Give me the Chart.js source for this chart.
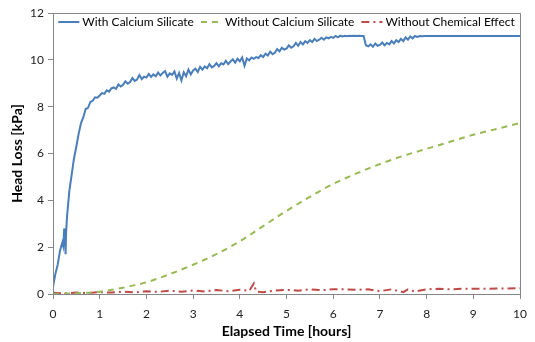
<!DOCTYPE html>
<html>
<head>
<meta charset="utf-8">
<script src="https://cdn.jsdelivr.net/npm/chart.js@4/dist/chart.umd.min.js"></script>
<style>
  html, body { margin: 0; padding: 0; background: #fff; }
  #wrap { width: 535px; height: 342px; }
</style>
</head>
<body>
<div id="wrap"><canvas id="chart"></canvas></div>
<script>
// hours / kPa
const timeWith = [0, 0.05, 0.1, 0.15, 0.2, 0.22, 0.24, 0.26, 0.27, 0.28, 0.3, 0.35, 0.4, 0.45, 0.5, 0.55, 0.6, 0.65, 0.7, 0.75, 0.8, 0.85, 0.9, 0.95,
    1.0, 1.05, 1.1, 1.15, 1.2, 1.25, 1.3, 1.35, 1.4, 1.45, 1.5, 1.55, 1.6, 1.65, 1.7, 1.75, 1.8, 1.85, 1.9, 1.95,
    2.0, 2.05, 2.1, 2.15, 2.2, 2.25, 2.3, 2.35, 2.4, 2.45, 2.5, 2.55, 2.6, 2.65, 2.7, 2.75, 2.8, 2.85, 2.9, 2.95,
    3.0, 3.05, 3.1, 3.15, 3.2, 3.25, 3.3, 3.35, 3.4, 3.45, 3.5, 3.55, 3.6, 3.65, 3.7, 3.75, 3.8, 3.85, 3.9, 3.95,
    4.0, 4.05, 4.1, 4.15, 4.2, 4.25, 4.3, 4.35, 4.4, 4.45, 4.5, 4.55, 4.6, 4.65, 4.7, 4.75, 4.8, 4.85, 4.9, 4.95,
    5.0, 5.05, 5.1, 5.15, 5.2, 5.25, 5.3, 5.35, 5.4, 5.45, 5.5, 5.55, 5.6, 5.65, 5.7, 5.75, 5.8, 5.85, 5.9, 5.95,
    6.0, 6.05, 6.1, 6.15, 6.2, 6.25, 6.3, 6.35, 6.4, 6.45, 6.5, 6.55, 6.6, 6.65, 6.7, 6.75, 6.8, 6.85, 6.9, 6.95,
    7.0, 7.05, 7.1, 7.15, 7.2, 7.25, 7.3, 7.35, 7.4, 7.45, 7.5, 7.55, 7.6, 7.65, 7.7, 7.75, 7.8, 7.85, 7.9, 7.95,
    8.0, 10.0];
const headWith = [0.3, 0.85, 1.25, 1.85, 2.2, 2.05, 2.8, 2.3, 1.7, 2.6, 3.3, 4.4, 5.1, 5.8, 6.3, 6.85, 7.3, 7.55, 7.9, 7.95, 8.2, 8.25, 8.4, 8.38,
    8.48, 8.58, 8.55, 8.7, 8.64, 8.78, 8.82, 8.76, 8.95, 8.86, 8.93, 9.08, 8.98, 9.05, 9.22, 9.1, 9.16, 9.35, 9.18, 9.28,
    9.24, 9.4, 9.27, 9.38, 9.3, 9.46, 9.33, 9.44, 9.52, 9.28, 9.42, 9.36, 9.5, 9.2, 9.44, 9.12, 9.47, 9.3, 9.58, 9.38,
    9.55, 9.62, 9.48, 9.7, 9.58, 9.72, 9.64, 9.82, 9.68, 9.74, 9.86, 9.72, 9.85, 9.8, 9.96, 9.82, 9.93, 10.02, 9.88, 10.05,
    9.94, 10.1, 9.75, 10.06, 9.98, 10.1, 10.04, 10.12, 10.08, 10.2, 10.12, 10.26, 10.18, 10.35, 10.24, 10.3, 10.46, 10.36, 10.52, 10.44,
    10.48, 10.62, 10.52, 10.58, 10.72, 10.6, 10.76, 10.66, 10.8, 10.72, 10.84, 10.76, 10.9, 10.8, 10.86, 10.94, 10.86, 10.96, 10.92, 10.98,
    10.94, 11.02, 10.96, 11.03, 11.0, 11.03, 11.01, 11.03, 11.02, 11.03, 11.02, 11.03, 11.02, 11.02, 10.62, 10.58, 10.66, 10.56, 10.7, 10.6,
    10.64, 10.74, 10.62, 10.72, 10.66, 10.8, 10.7, 10.84, 10.76, 10.9, 10.8, 10.96, 10.86, 11.0, 10.92, 11.02, 10.98, 11.02, 11.01, 11.02,
    11.02, 11.02];

const timeWithout = [0, 0.5, 1, 1.5, 2, 2.5, 3, 3.5, 4, 4.5, 5, 5.5, 6, 6.5, 7, 7.5, 8, 8.5, 9, 9.5, 10];
const headWithout = [0.0, 0.03, 0.1, 0.27, 0.5, 0.85, 1.25, 1.7, 2.25, 2.9, 3.55, 4.15, 4.7, 5.15, 5.55, 5.9, 6.2, 6.5, 6.8, 7.05, 7.3];

const timeNoChem = [0, 0.25, 0.5, 0.75, 1, 1.25, 1.5, 1.75, 2, 2.25, 2.5, 2.75, 3, 3.25, 3.5, 3.75, 4, 4.2, 4.3, 4.35, 4.5, 4.75,
    5, 5.25, 5.5, 5.75, 6, 6.25, 6.5, 6.75, 7, 7.25, 7.5, 7.6, 7.75, 8, 8.25, 8.5, 8.75, 9, 9.5, 10];
const headNoChem = [0.05, 0.03, 0.06, 0.04, 0.08, 0.06, 0.1, 0.07, 0.12, 0.09, 0.14, 0.1, 0.15, 0.11, 0.17, 0.12, 0.18, 0.13, 0.45, 0.1, 0.08, 0.15,
    0.18, 0.14, 0.2, 0.16, 0.2, 0.2, 0.18, 0.2, 0.12, 0.2, 0.08, 0.2, 0.1, 0.2, 0.22, 0.2, 0.22, 0.22, 0.23, 0.25];

const seriesNames = ['With Calcium Silicate', 'Without Calcium Silicate', 'Without Chemical Effect'];
const xTicks = [0, 1, 2, 3, 4, 5, 6, 7, 8, 9, 10];
const yTicks = [0, 2, 4, 6, 8, 10, 12];

const AXIS = '#868686';
const FONT = 'Lato, "Liberation Sans", sans-serif';

function toPoints(xs, ys) {
    return xs.map((x, i) => ({ x: x, y: ys[i] }));
}

// grey frame round the plot area
const frame = {
    id: 'frame',
    afterDraw(chart) {
        const a = chart.chartArea;
        const ctx = chart.ctx;
        ctx.save();
        ctx.strokeStyle = AXIS;
        ctx.lineWidth = 1;
        ctx.strokeRect(Math.round(a.left) + 0.5, Math.round(a.top) + 0.5, Math.round(a.right - a.left), Math.round(a.bottom - a.top));
        ctx.restore();
    }
};

// one-row legend sitting inside the top of the plot, like the Excel original
const innerLegend = {
    id: 'innerLegend',
    afterDraw(chart) {
        const a = chart.chartArea;
        const ctx = chart.ctx;
        const sample = 21, gapText = 3, gapItem = 7;
        ctx.save();
        ctx.font = '12px ' + FONT;
        const items = chart.data.datasets.map(ds => ({ ds, w: ctx.measureText(ds.label).width }));
        let total = items.reduce((s, it) => s + sample + gapText + it.w, 0) + gapItem * (items.length - 1);
        let x = (a.left + a.right) / 2 - total / 2;
        const y = a.top + 9;
        items.forEach(it => {
            ctx.strokeStyle = it.ds.borderColor;
            ctx.lineWidth = 2;
            ctx.setLineDash(it.ds.borderDash || []);
            ctx.beginPath();
            ctx.moveTo(x, y);
            ctx.lineTo(x + sample, y);
            ctx.stroke();
            ctx.setLineDash([]);
            ctx.fillStyle = '#000';
            ctx.textBaseline = 'middle';
            ctx.fillText(it.ds.label, x + sample + gapText, y);
            x += sample + gapText + it.w + gapItem;
        });
        ctx.restore();
    }
};

new Chart(document.getElementById('chart'), {
    type: 'line',
    data: {
        datasets: [{
            label: seriesNames[0],
            data: toPoints(timeWith, headWith),
            borderColor: '#4a7ebb',
            borderWidth: 2,
            pointRadius: 0,
            tension: 0
        }, {
            label: seriesNames[1],
            data: toPoints(timeWithout, headWithout),
            borderColor: '#98b954',
            borderWidth: 2,
            borderDash: [6, 5],
            pointRadius: 0,
            cubicInterpolationMode: 'monotone'
        }, {
            label: seriesNames[2],
            data: toPoints(timeNoChem, headNoChem),
            borderColor: '#be4b48',
            borderWidth: 2,
            borderDash: [8, 4, 2, 4],
            pointRadius: 0,
            tension: 0
        }]
    },
    options: {
        responsive: true,
        maintainAspectRatio: false,
        animation: false,
        layout: { padding: { top: 13, right: 12, left: 0, bottom: 0 } },
        scales: {
            x: {
                type: 'linear',
                min: 0,
                max: 10,
                afterBuildTicks: s => { s.ticks = xTicks.map(v => ({ value: v })); },
                afterFit: s => { s.height = 48; },
                grid: { drawOnChartArea: false, drawTicks: true, tickLength: 5, color: AXIS },
                border: { color: AXIS },
                ticks: { color: '#222', font: { family: FONT, size: 12 }, padding: 8, maxRotation: 0 },
                title: {
                    display: true,
                    text: 'Elapsed Time [hours]',
                    color: '#000',
                    font: { family: FONT, size: 14, weight: 'bold' },
                    padding: { top: 0, bottom: 2 }
                }
            },
            y: {
                min: 0,
                max: 12,
                afterBuildTicks: s => { s.ticks = yTicks.map(v => ({ value: v })); },
                afterFit: s => { s.width = 53; },
                grid: { drawOnChartArea: false, drawTicks: true, tickLength: 5, color: AXIS },
                border: { color: AXIS },
                ticks: { color: '#222', font: { family: FONT, size: 12 }, padding: 4 },
                title: {
                    display: true,
                    text: 'Head Loss [kPa]',
                    color: '#000',
                    font: { family: FONT, size: 14, weight: 'bold' },
                    padding: { top: 9, bottom: 0 }
                }
            }
        },
        plugins: {
            legend: { display: false },
            tooltip: { enabled: false }
        }
    },
    plugins: [frame, innerLegend]
});
</script>
</body>
</html>
